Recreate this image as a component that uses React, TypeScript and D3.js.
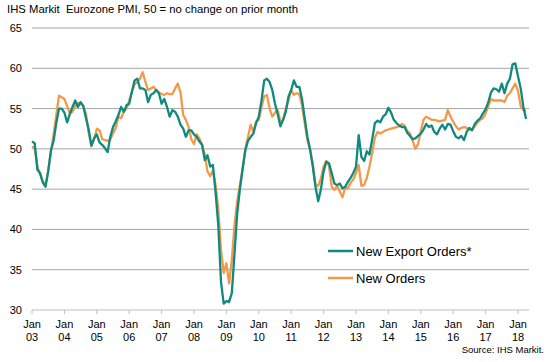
import React from "react";
import * as d3 from "d3";

// monthly index readings, Jan 2003 .. Apr 2018
const exportOrders: number[] = [
  50.9, 50.7, 47.4, 47.0, 45.8, 45.3, 47.2, 49.8, 51.0, 53.2, 55.0, 55.0, // 2003
  54.5, 53.3, 54.3, 55.2, 56.0, 55.2, 55.8, 55.3, 53.8, 52.4, 50.4, 51.3, // 2004
  51.8, 50.8, 50.5, 50.1, 49.6, 51.5, 52.7, 53.4, 54.2, 55.2, 54.6, 55.4, // 2005
  55.6, 57.1, 58.5, 58.7, 57.5, 57.5, 57.3, 55.8, 56.7, 56.9, 57.3, 56.9, // 2006
  55.6, 56.2, 55.2, 54.0, 54.8, 54.6, 54.0, 53.0, 52.5, 51.5, 52.3, 52.3, // 2007
  51.8, 51.5, 50.9, 50.5, 48.6, 49.2, 47.8, 48.0, 44.6, 40.5, 33.5, 30.8, // 2008
  31.1, 31.0, 32.1, 37.0, 42.0, 45.0, 47.5, 49.8, 51.0, 51.5, 51.9, 53.2, // 2009
  54.0, 56.0, 58.5, 58.7, 58.3, 57.3, 55.6, 54.3, 52.8, 53.6, 54.6, 56.5, // 2010
  57.3, 58.5, 57.7, 57.7, 56.2, 53.8, 51.5, 49.9, 47.8, 45.3, 43.5, 45.0, // 2011
  47.2, 48.4, 48.2, 47.0, 45.7, 45.5, 45.7, 45.1, 45.3, 45.9, 46.4, 47.0, // 2012
  47.8, 51.7, 49.0, 48.5, 49.7, 49.3, 51.2, 53.2, 53.5, 53.3, 54.0, 54.3, // 2013
  55.1, 54.5, 53.6, 53.2, 52.9, 52.7, 52.7, 52.0, 51.6, 51.2, 51.3, 51.6, // 2014
  51.9, 52.4, 53.1, 52.7, 52.9, 52.1, 51.8, 52.5, 53.0, 52.4, 53.1, 53.0, // 2015
  52.2, 51.5, 51.3, 51.6, 51.1, 52.1, 52.6, 52.3, 53.1, 53.5, 53.8, 54.4, // 2016
  54.9, 55.8, 57.0, 57.5, 57.4, 57.1, 58.1, 56.9, 58.1, 58.7, 60.5, 60.6, // 2017
  59.0, 57.5, 55.2, 53.7, // 2018
];

const newOrders: number[] = [
  50.3, 50.1, 47.8, 46.8, 46.0, 45.5, 47.3, 49.5, 51.8, 54.2, 56.6, 56.4, // 2003
  56.2, 55.3, 54.4, 54.6, 55.3, 55.7, 55.6, 55.3, 54.3, 52.0, 50.3, 51.2, // 2004
  52.5, 52.3, 51.2, 51.1, 51.0, 51.2, 51.9, 52.6, 54.0, 53.8, 54.6, 55.0, // 2005
  56.0, 57.1, 58.0, 58.3, 58.7, 59.5, 58.3, 57.3, 57.5, 57.7, 57.3, 57.0, // 2006
  56.8, 56.7, 56.9, 56.8, 56.8, 57.5, 58.1, 57.0, 54.2, 53.6, 52.7, 51.2, // 2007
  50.6, 51.8, 51.3, 50.5, 49.3, 47.2, 46.6, 47.3, 45.5, 42.5, 37.5, 34.6, // 2008
  35.8, 33.3, 36.2, 40.5, 43.5, 45.5, 47.5, 50.0, 51.5, 53.0, 52.1, 53.4, // 2009
  53.6, 55.2, 56.5, 56.7, 55.0, 54.0, 54.5, 54.8, 53.4, 53.6, 55.0, 56.0, // 2010
  57.3, 56.7, 56.9, 56.8, 55.4, 53.2, 51.1, 49.9, 48.2, 45.5, 45.4, 46.3, // 2011
  47.8, 48.5, 47.9, 45.3, 44.9, 45.4, 44.7, 44.0, 45.2, 45.1, 45.8, 46.2, // 2012
  47.0, 48.0, 45.4, 45.5, 46.4, 47.8, 49.5, 51.4, 52.1, 51.9, 52.1, 52.3, // 2013
  52.4, 52.5, 52.6, 52.7, 52.8, 53.1, 52.9, 52.2, 51.9, 51.0, 50.0, 50.6, // 2014
  52.2, 53.6, 54.0, 53.8, 53.6, 53.6, 53.5, 53.4, 53.5, 53.6, 54.8, 54.0, // 2015
  53.4, 52.8, 52.4, 52.6, 52.7, 52.6, 52.4, 52.4, 52.8, 53.3, 53.6, 53.8, // 2016
  54.4, 55.3, 56.2, 56.0, 56.0, 56.0, 56.0, 55.8, 56.6, 56.9, 57.5, 58.1, // 2017
  57.2, 55.3, 54.8, 54.7, // 2018
];

const tickYears = ["03", "04", "05", "06", "07", "08", "09", "10", "11", "12", "13", "14", "15", "16", "17", "18"];
const yTicks = [30, 35, 40, 45, 50, 55, 60, 65];

const seriesInfo = [
  { name: "New Export Orders*", values: exportOrders, color: "#0e8a7e" },
  { name: "New Orders", values: newOrders, color: "#f2994a" },
];

const W = 550;
const H = 362;
const left = 32;
const right = 529;
const top = 28;
const bottom = 310;
const font = "'Liberation Sans', Arial, sans-serif";

export default function App() {
  const n = exportOrders.length;
  const x = d3.scaleLinear().domain([0, n - 1]).range([left, left + (n - 1) * 2.7]);
  const y = d3.scaleLinear().domain([30, 65]).range([bottom, top]);

  const line = d3
    .line<number>()
    .x((d, i) => x(i))
    .y((d) => y(d));

  return (
    <svg
      width={W}
      height={H}
      style={{ position: "absolute", left: 0, top: 0, background: "#fff" }}
      fontFamily={font}
    >
      <text x={7} y={13} fontSize={11.3} fill="#000">
        {"IHS Markit\u00a0 Eurozone PMI, 50 = no change on prior month"}
      </text>

      {/* gridlines + y labels */}
      {yTicks.map((t) => (
        <g key={t}>
          {t > 30 && (
            <line x1={left} x2={right} y1={y(t)} y2={y(t)} stroke="#a6a6a6" strokeWidth={1} />
          )}
          <text x={22} y={y(t) + 4} fontSize={11} textAnchor="end" fill="#000">
            {t}
          </text>
        </g>
      ))}

      {/* x axis */}
      <line x1={left} x2={right} y1={bottom} y2={bottom} stroke="#bfbfbf" strokeWidth={1} />
      {tickYears.map((yr, i) => {
        const tx = x(i * 12);
        return (
          <g key={yr}>
            <line x1={tx} x2={tx} y1={bottom} y2={bottom + 4} stroke="#bfbfbf" />
            <text x={tx} y={328} fontSize={11} textAnchor="middle" fill="#000">
              Jan
            </text>
            <text x={tx} y={341} fontSize={11} textAnchor="middle" fill="#000">
              {yr}
            </text>
          </g>
        );
      })}

      {/* series: orange drawn first so teal is on top */}
      {[...seriesInfo].reverse().map((s) => (
        <path
          key={s.name}
          d={line(s.values) || ""}
          fill="none"
          stroke={s.color}
          strokeWidth={2.3}
          strokeLinejoin="round"
        />
      ))}

      {/* legend */}
      {seriesInfo.map((s, i) => (
        <g key={s.name} transform={`translate(328, ${251 + i * 27})`}>
          <line x1={0} x2={25} y1={0} y2={0} stroke={s.color} strokeWidth={2.5} />
          <text x={28} y={4.5} fontSize={13} fill="#000">
            {s.name}
          </text>
        </g>
      ))}

      <text x={544} y={353} fontSize={9.5} textAnchor="end" fill="#000">
        Source: IHS Markit.
      </text>
    </svg>
  );
}
